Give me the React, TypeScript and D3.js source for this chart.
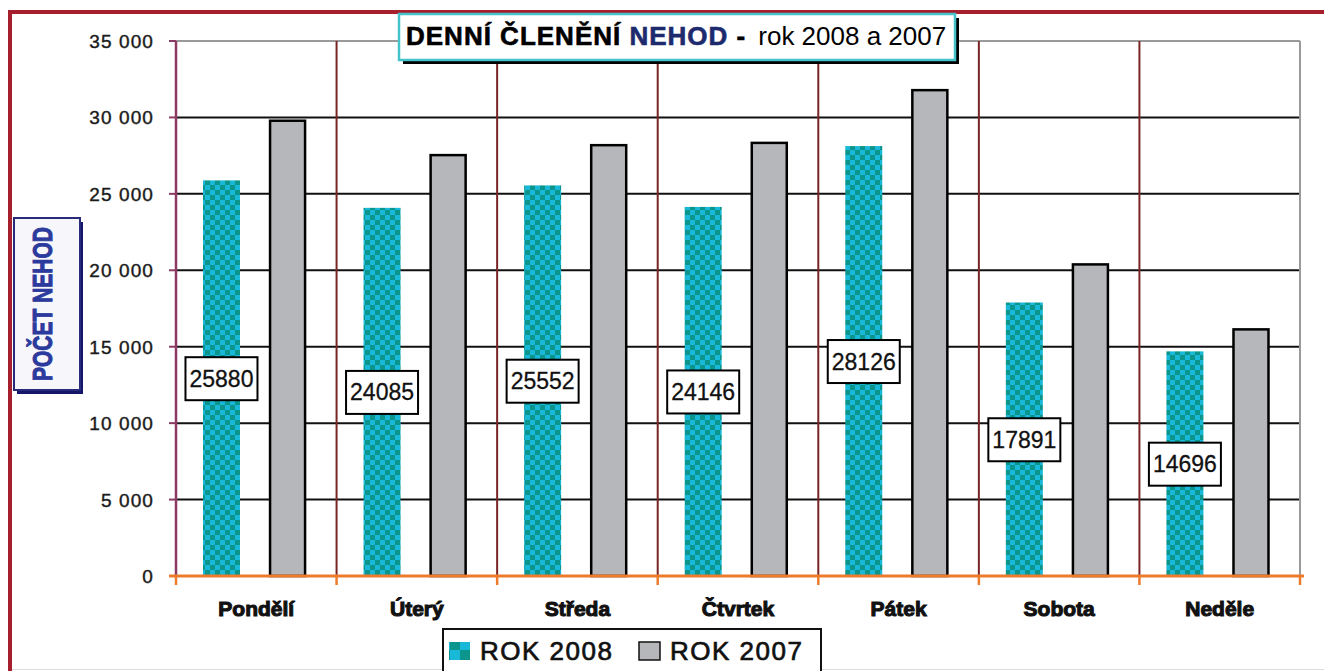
import { useRef, useEffect } from 'react';
import * as d3 from 'd3';

// values
const days = ['Pondělí', 'Úterý', 'Středa', 'Čtvrtek', 'Pátek', 'Sobota', 'Neděle'];
const rok2008 = [25880, 24085, 25552, 24146, 28126, 17891, 14696];
const rok2007 = [29850, 27600, 28250, 28400, 31850, 20450, 16200];
const seriesNames = ['ROK 2008', 'ROK 2007'];
const yTicks = [0, 5000, 10000, 15000, 20000, 25000, 30000, 35000];

export default function App() {
  const ref = useRef<SVGSVGElement | null>(null);

  useEffect(() => {
    const svg = d3.select(ref.current);
    svg.selectAll('*').remove();

    const W = 1324, H = 671;
    const m = { top: 41, right: 24, bottom: 95, left: 176 };
    const teal = '#0b958c', cyan = '#18b9d8', grey = '#b6b7bb';
    const font = 'Liberation Sans, Arial, sans-serif';
    const fmt = d3.formatLocale({ decimal: ',', thousands: ' ', grouping: [3], currency: ['', ''] }).format(',');

    const x = d3.scaleBand().domain(days).range([m.left, W - m.right]).padding(0);
    const bw = x.bandwidth();
    const xs = d3.scaleBand().domain(seriesNames).range([bw * 0.168, bw * 0.81]).paddingInner(0.44);
    const y = d3.scaleLinear().domain([0, 35000]).range([H - m.bottom, m.top]);

    svg.append('rect').attr('width', W).attr('height', H).attr('fill', '#fff');

    // checker patterns for the 2008 bars
    const defs = svg.append('defs');
    const mkPat = (id: string, s: number) => {
      const p = defs.append('pattern').attr('id', id).attr('patternUnits', 'userSpaceOnUse')
        .attr('width', s * 2).attr('height', s * 2);
      p.append('rect').attr('width', s * 2).attr('height', s * 2).attr('fill', teal);
      p.append('rect').attr('width', s).attr('height', s).attr('fill', cyan);
      p.append('rect').attr('x', s).attr('y', s).attr('width', s).attr('height', s).attr('fill', cyan);
    };
    mkPat('chk', 5);
    mkPat('chkL', 10);

    // red frame
    svg.append('rect').attr('x', 8).attr('y', 10).attr('width', 4).attr('height', H - 10).attr('fill', '#a51f2c');
    svg.append('rect').attr('x', 8).attr('y', 10).attr('width', W - 8).attr('height', 4).attr('fill', '#a51f2c');
    svg.append('line').attr('x1', 12).attr('x2', W).attr('y1', 669.5).attr('y2', 669.5)
      .attr('stroke', '#ddd').attr('stroke-width', 1);

    const g = svg.append('g');

    // horizontal grid
    g.selectAll('line.grid').data(yTicks.filter(t => t > 0 && t < 35000)).enter().append('line')
      .attr('x1', m.left).attr('x2', W - m.right)
      .attr('y1', d => y(d)).attr('y2', d => y(d))
      .attr('stroke', '#111').attr('stroke-width', 2);
    g.append('line').attr('x1', m.left).attr('x2', W - m.right).attr('y1', y(35000)).attr('y2', y(35000))
      .attr('stroke', '#9a9a9a').attr('stroke-width', 2);
    g.append('line').attr('x1', W - m.right).attr('x2', W - m.right).attr('y1', y(35000)).attr('y2', y(0))
      .attr('stroke', '#9a9a9a').attr('stroke-width', 2);

    // category dividers
    g.selectAll('line.div').data(days.slice(1)).enter().append('line')
      .attr('x1', d => x(d)!).attr('x2', d => x(d)!)
      .attr('y1', y(35000)).attr('y2', y(0))
      .attr('stroke', '#7a2424').attr('stroke-width', 2);

    // y axis
    g.append('line').attr('x1', m.left).attr('x2', m.left).attr('y1', y(35000)).attr('y2', y(0))
      .attr('stroke', '#8b3a63').attr('stroke-width', 2.5);
    g.selectAll('line.yt').data(yTicks).enter().append('line')
      .attr('x1', m.left - 7).attr('x2', m.left).attr('y1', d => y(d)).attr('y2', d => y(d))
      .attr('stroke', '#8b3a63').attr('stroke-width', 2);
    g.selectAll('text.yl').data(yTicks).enter().append('text')
      .attr('x', 154).attr('y', d => y(d) + 7)
      .attr('text-anchor', 'end').attr('fill', '#1a1a1a')
      .attr('stroke', '#1a1a1a').attr('stroke-width', 0.4)
      .style('font-family', font).style('font-size', '19px')
      .style('letter-spacing', '1.1px')
      .text(d => fmt(d));

    // bars
    days.forEach((d, i) => {
      const x0 = x(d)!;
      g.append('rect')
        .attr('x', x0 + xs('ROK 2008')!).attr('y', y(rok2008[i]))
        .attr('width', xs.bandwidth()).attr('height', y(0) - y(rok2008[i]))
        .attr('fill', 'url(#chk)');
      g.append('rect')
        .attr('x', x0 + xs('ROK 2007')! + 1).attr('y', y(rok2007[i]) + 1)
        .attr('width', xs.bandwidth() - 2).attr('height', y(0) - y(rok2007[i]) - 1)
        .attr('fill', grey).attr('stroke', '#000').attr('stroke-width', 2.5);
    });

    // x axis (orange)
    g.append('line').attr('x1', m.left - 7).attr('x2', W - m.right + 4).attr('y1', y(0)).attr('y2', y(0))
      .attr('stroke', '#ee7a2c').attr('stroke-width', 3);
    g.selectAll('line.xt').data([...days.map(d => x(d)!), W - m.right]).enter().append('line')
      .attr('x1', d => d).attr('x2', d => d).attr('y1', y(0)).attr('y2', y(0) + 9)
      .attr('stroke', '#ee7a2c').attr('stroke-width', 2.5);
    g.selectAll('text.xl').data(days).enter().append('text')
      .attr('x', d => x(d)! + bw / 2).attr('y', 616)
      .attr('text-anchor', 'middle').attr('fill', '#111')
      .attr('stroke', '#111').attr('stroke-width', 1.1)
      .style('font-family', font).style('font-size', '21px').style('font-weight', 700)
      .text(d => d);

    // value labels for 2008, centred at half the bar
    days.forEach((d, i) => {
      const cx = x(d)! + xs('ROK 2008')! + xs.bandwidth() / 2;
      const cy = y(rok2008[i] / 2);
      g.append('rect').attr('x', cx - 36).attr('y', cy - 21).attr('width', 72).attr('height', 43)
        .attr('fill', '#fff').attr('stroke', '#000').attr('stroke-width', 2);
      g.append('text').attr('x', cx).attr('y', cy + 8.5).attr('text-anchor', 'middle').attr('fill', '#111')
        .attr('stroke', '#111').attr('stroke-width', 0.3)
        .style('font-family', font).style('font-size', '23px')
        .text(rok2008[i]);
    });

    // title box
    svg.append('rect').attr('x', 403).attr('y', 18).attr('width', 556).attr('height', 46).attr('fill', '#000');
    svg.append('rect').attr('x', 399).attr('y', 14).attr('width', 556).attr('height', 46)
      .attr('fill', '#fff').attr('stroke', '#45c3cb').attr('stroke-width', 2.5);
    const title = svg.append('text').attr('x', 406).attr('y', 45)
      .style('font-family', font).style('font-size', '26px');
    title.append('tspan').attr('font-weight', 700).attr('fill', '#000').attr('stroke', '#000').attr('stroke-width', 0.6)
      .style('letter-spacing', '1px').text('DENNÍ ČLENĚNÍ ');
    title.append('tspan').attr('font-weight', 700).attr('fill', '#1d2a6e').attr('stroke', '#1d2a6e').attr('stroke-width', 0.6)
      .style('letter-spacing', '1px').text('NEHOD');
    title.append('tspan').attr('font-weight', 700).attr('fill', '#000').attr('stroke', '#000').attr('stroke-width', 0.6)
      .style('letter-spacing', '1px').text(' -');
    title.append('tspan').attr('fill', '#000').attr('stroke', 'none').attr('dx', 12).text('rok 2008 a 2007');

    // y axis title box
    svg.append('rect').attr('x', 17).attr('y', 222).attr('width', 66).attr('height', 172).attr('fill', '#15156a');
    svg.append('rect').attr('x', 14).attr('y', 218).attr('width', 66).attr('height', 172)
      .attr('fill', '#f6f6fb').attr('stroke', '#2a2a7a').attr('stroke-width', 2);
    svg.append('text')
      .attr('transform', 'translate(52,304) rotate(-90) scale(0.75,1)')
      .attr('text-anchor', 'middle').attr('fill', '#2b3a9c')
      .attr('stroke', '#2b3a9c').attr('stroke-width', 1)
      .style('font-family', font).style('font-size', '28px').style('font-weight', 700)
      .text('POČET NEHOD');

    // legend
    svg.append('rect').attr('x', 443).attr('y', 629).attr('width', 378).attr('height', 60)
      .attr('fill', '#fff').attr('stroke', '#111').attr('stroke-width', 2);
    const lx = [449, 639];
    seriesNames.forEach((s, i) => {
      svg.append('rect').attr('x', lx[i]).attr('y', 642).attr('width', 21).attr('height', 18)
        .attr('fill', i === 0 ? 'url(#chkL)' : grey)
        .attr('stroke', i === 0 ? 'none' : '#111').attr('stroke-width', 1.5);
      svg.append('text').attr('x', lx[i] + 31).attr('y', 660)
        .attr('fill', '#111').attr('stroke', '#111').attr('stroke-width', 0.7)
        .style('font-family', font).style('font-size', '26px')
        .style('letter-spacing', '1.5px')
        .text(s);
    });
  }, []);

  return (
    <svg ref={ref} width={1324} height={671}
      style={{ position: 'absolute', left: 0, top: 0, display: 'block' }} />
  );
}
